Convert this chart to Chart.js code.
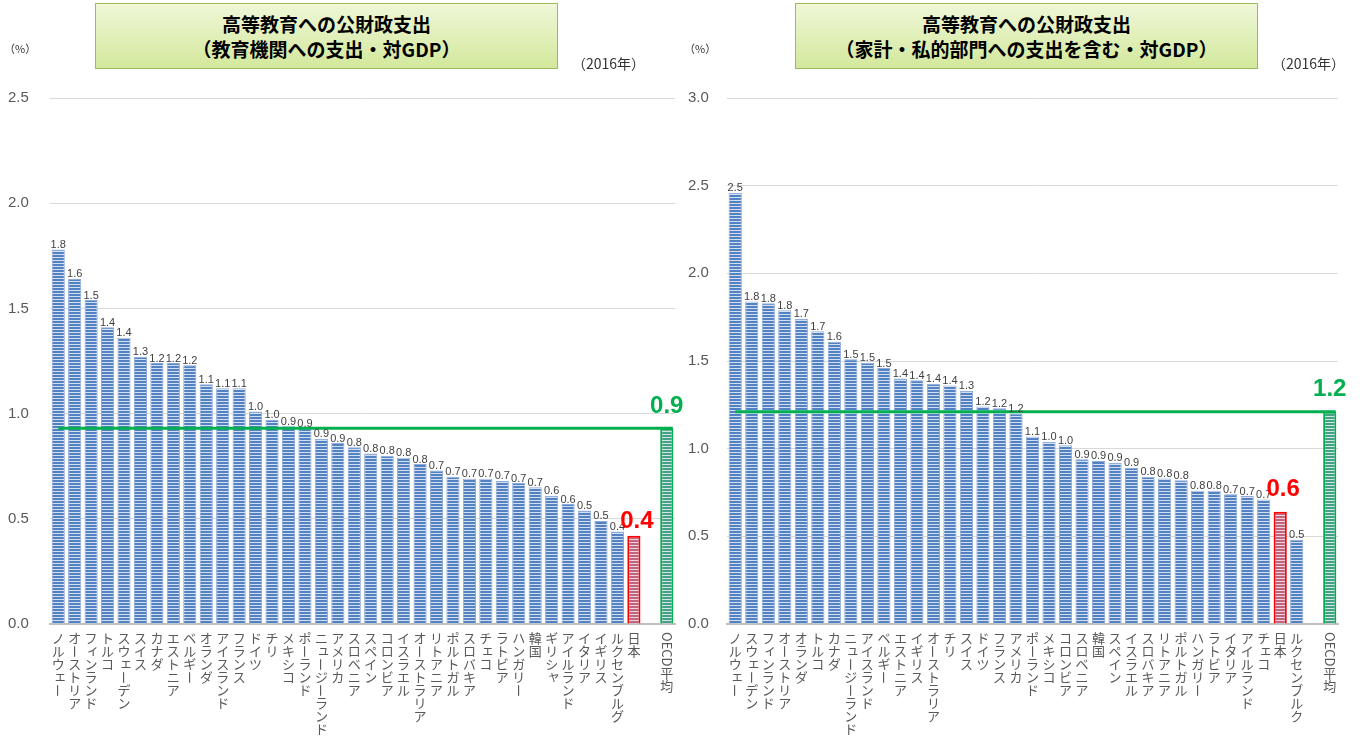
<!DOCTYPE html>
<html>
<head>
<meta charset="utf-8">
<script src="https://cdn.jsdelivr.net/npm/chart.js@4/dist/chart.umd.min.js"></script>
<style>
body{margin:0;background:#fff;width:1362px;height:738px;position:relative;overflow:hidden;font-family:"Noto Sans CJK JP",sans-serif;}
.pane{position:absolute;top:0;height:738px;}
.title{position:absolute;top:3px;height:66px;width:463px;border:1px solid #9bbb59;box-sizing:border-box;
  background:linear-gradient(#eff7d8,#d3e89c);text-align:center;font-weight:bold;font-size:19px;line-height:25px;padding-top:7px;color:#000;}
.pct{position:absolute;top:40px;font-size:11px;color:#333;}
.year{position:absolute;top:53px;font-size:14px;color:#333;}
</style>
</head>
<body>
<div class="pane" style="left:0;width:700px">
  <canvas id="chartLeft" width="700" height="738"></canvas>
</div>
<div class="pane" style="left:681px;width:681px">
  <canvas id="chartRight" width="681" height="738"></canvas>
</div>
<div class="title" style="left:95px">高等教育への公財政支出<br>（教育機関への支出・対GDP）</div>
<div class="title" style="left:795px">高等教育への公財政支出<br>（家計・私的部門への支出を含む・対GDP）</div>
<div class="pct" style="left:4px">（%）</div>
<div class="pct" style="left:684px">（%）</div>
<div class="year" style="left:572px">（2016年）</div>
<div class="year" style="left:1272px">（2016年）</div>
<script>
// 左: 教育機関への支出
var leftCategories = ['ノルウェー','オーストリア','フィンランド','トルコ','スウェーデン','スイス','カナダ','エストニア','ベルギー','オランダ','アイスランド','フランス','ドイツ','チリ','メキシコ','ポーランド','ニュージーランド','アメリカ','スロベニア','スペイン','コロンビア','イスラエル','オーストラリア','リトアニア','ポルトガル','スロバキア','チェコ','ラトビア','ハンガリー','韓国','ギリシャ','アイルランド','イタリア','イギリス','ルクセンブルグ','日本','','OECD平均'];
var leftValues = [1.78,1.64,1.54,1.41,1.36,1.27,1.24,1.24,1.23,1.14,1.12,1.12,1.01,0.97,0.94,0.93,0.88,0.86,0.84,0.81,0.80,0.79,0.76,0.73,0.70,0.69,0.69,0.68,0.67,0.65,0.61,0.57,0.54,0.49,0.44,0.42,null,0.93];

// 右: 家計・私的部門への支出を含む
var rightCategories = ['ノルウェー','スウェーデン','フィンランド','オーストリア','オランダ','トルコ','カナダ','ニュージーランド','アイスランド','ベルギー','エストニア','イギリス','オーストラリア','チリ','スイス','ドイツ','フランス','アメリカ','ポーランド','メキシコ','コロンビア','スロベニア','韓国','スペイン','イスラエル','スロバキア','リトアニア','ポルトガル','ハンガリー','ラトビア','イタリア','アイルランド','チェコ','日本','ルクセンブルク','','OECD平均'];
var rightValues = [2.46,1.84,1.83,1.79,1.74,1.67,1.61,1.51,1.49,1.46,1.40,1.39,1.37,1.36,1.33,1.24,1.23,1.20,1.07,1.04,1.02,0.94,0.93,0.92,0.89,0.84,0.83,0.82,0.76,0.76,0.74,0.73,0.71,0.64,0.48,null,1.21];

var leftYTicks = [0, 0.5, 1.0, 1.5, 2.0, 2.5];
var rightYTicks = [0, 0.5, 1.0, 1.5, 2.0, 2.5, 3.0];

var JAPAN = '日本';
var OECD = 'OECD平均';

function stripes(dark, light){
  var c = document.createElement('canvas');
  c.width = 4; c.height = 3;
  var g = c.getContext('2d');
  g.fillStyle = light; g.fillRect(0, 0, 4, 3);
  g.fillStyle = dark; g.fillRect(0, 0, 4, 2);
  return g.createPattern(c, 'repeat');
}
var bluePat = stripes('#5282c2', '#d3dff0');
var redPat = stripes('#c06480', '#f0d2da');
var greenPat = stripes('#45a087', '#cfe9df');

var smallKana = 'ァィゥェォッャュョヮ';

// 縦書きの国名
function drawVerticalLabels(chart){
  var ctx = chart.ctx, xs = chart.scales.x;
  var step = 13;
  ctx.save();
  ctx.fillStyle = '#595959';
  ctx.font = '13px "Noto Sans CJK JP"';
  chart.data.labels.forEach(function(label, i){
    var x = xs.getPixelForValue(i);
    var y = chart.chartArea.bottom + 8;
    var parts = label.match(/[\x20-\x7e]+|./g) || [];
    parts.forEach(function(p){
      if (/^[\x20-\x7e]+$/.test(p) || p === 'ー'){
        var w = p === 'ー' ? step : ctx.measureText(p).width;
        ctx.save();
        ctx.translate(x, y + w / 2);
        ctx.rotate(Math.PI / 2);
        ctx.textAlign = 'center';
        ctx.textBaseline = 'middle';
        ctx.fillText(p, 0, 0);
        ctx.restore();
        y += w;
      } else {
        var dx = 0, dy = 0;
        if (smallKana.indexOf(p) >= 0){ dx = 2; dy = -2; }
        ctx.textAlign = 'center';
        ctx.textBaseline = 'top';
        ctx.fillText(p, x + dx, y + dy);
        y += step;
      }
    });
  });
  ctx.restore();
}

var decorPlugin = {
  id: 'decor',
  afterDatasetsDraw: function(chart, args, opts){
    var ctx = chart.ctx, xs = chart.scales.x, ys = chart.scales.y;
    var labels = chart.data.labels, vals = chart.data.datasets[0].data;
    var last = labels.length - 1;
    var meta = chart.getDatasetMeta(0);
    // OECD平均の線
    var yl = ys.getPixelForValue(vals[last]);
    ctx.save();
    ctx.strokeStyle = '#00b050';
    ctx.lineWidth = 3;
    ctx.beginPath();
    ctx.moveTo(xs.getPixelForValue(0), yl);
    ctx.lineTo(xs.getPixelForValue(last) + 6, yl);
    ctx.stroke();
    // 値ラベル
    ctx.textAlign = 'center';
    ctx.textBaseline = 'bottom';
    vals.forEach(function(v, i){
      if (v === null) return;
      var bar = meta.data[i];
      var t = v.toFixed(1);
      if (labels[i] === JAPAN){
        ctx.font = 'bold 24px "Liberation Sans"';
        ctx.fillStyle = '#ff0000';
        ctx.fillText(t, bar.x + 3, bar.y - opts.japanLift);
      } else if (labels[i] === OECD){
        ctx.font = 'bold 24px "Liberation Sans"';
        ctx.fillStyle = '#00b050';
        ctx.fillText(t, bar.x, bar.y - 10);
      } else {
        ctx.font = '11px "Liberation Sans"';
        ctx.fillStyle = '#404040';
        ctx.fillText(t, bar.x, bar.y + 1);
      }
    });
    ctx.restore();
    drawVerticalLabels(chart);
  }
};

function makeChart(id, cats, vals, yTicks, padLeft, axisW, padRight, japanLift){
  return new Chart(document.getElementById(id), {
    type: 'bar',
    data: {
      labels: cats,
      datasets: [{
        data: vals,
        backgroundColor: cats.map(function(c){ return c === JAPAN ? redPat : (c === OECD ? greenPat : bluePat); }),
        borderColor: cats.map(function(c){ return c === JAPAN ? '#ff0000' : (c === OECD ? '#00b050' : '#8eaadb'); }),
        borderWidth: cats.map(function(c){ return c === JAPAN || c === OECD ? 2 : 1; }),
        barPercentage: 0.8,
        categoryPercentage: 1
      }]
    },
    options: {
      responsive: false,
      animation: false,
      devicePixelRatio: 1,
      layout: { padding: { left: padLeft, right: padRight, top: 98, bottom: 0 } },
      plugins: { legend: { display: false }, tooltip: { enabled: false }, decor: { japanLift: japanLift } },
      scales: {
        x: {
          ticks: { display: false },
          grid: { display: false },
          border: { color: '#bfbfbf', width: 2 },
          afterFit: function(s){ s.height = 114; }
        },
        y: {
          min: yTicks[0],
          max: yTicks[yTicks.length - 1],
          afterBuildTicks: function(s){ s.ticks = yTicks.map(function(v){ return { value: v }; }); },
          ticks: {
            callback: function(v){ return Number(v).toFixed(1); },
            color: '#595959',
            font: { family: 'Liberation Sans', size: 15 },
            crossAlign: 'far',
            padding: 0
          },
          grid: { color: '#d9d9d9', drawTicks: false },
          border: { display: false },
          afterFit: function(s){ s.width = axisW; }
        }
      }
    },
    plugins: [decorPlugin]
  });
}

makeChart('chartLeft', leftCategories, leftValues, leftYTicks, 8, 42, 25, 2);
makeChart('chartRight', rightCategories, rightValues, rightYTicks, 7, 39, 24, 10);
</script>
</body>
</html>
